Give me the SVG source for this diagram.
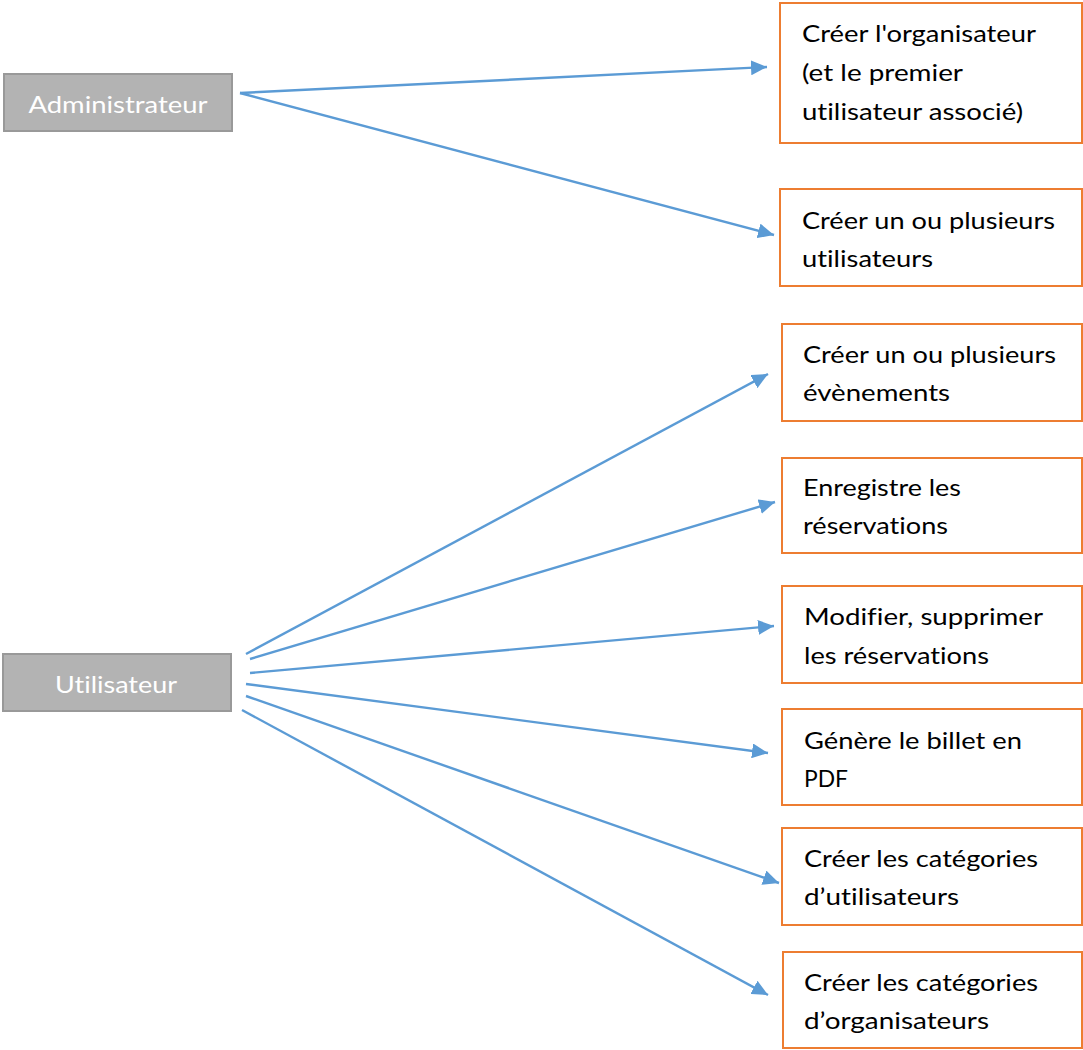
<svg xmlns="http://www.w3.org/2000/svg" width="1083" height="1050" viewBox="0 0 1083 1050">
<style>
text{font-variant-ligatures:none;font-feature-settings:"liga" 0,"clig" 0}
.actor{fill:#b3b3b3;stroke:#999999;stroke-width:2}
.actor-t{fill:#ffffff;font-family:Lato,"Open Sans",sans-serif;font-size:23px;text-anchor:middle}
.task{fill:#ffffff;stroke:#ed7d31;stroke-width:2}
.task-t{fill:#000000;font-family:Lato,"Open Sans",sans-serif;font-size:23px}
.conn{stroke:#5b9bd5;stroke-width:2.4;fill:none;marker-end:url(#arr)}
</style>
<defs>
<marker id="arr" markerUnits="userSpaceOnUse" markerWidth="17" markerHeight="15" refX="16" refY="7.5" orient="auto">
<path d="M0,0 L16,7.5 L0,15 z" fill="#5b9bd5"/>
</marker>
</defs>
<rect width="1083" height="1050" fill="#ffffff"/>
<g id="connectors">
<line class="conn" x1="240" y1="93" x2="767" y2="67"/>
<line class="conn" x1="240" y1="93" x2="774" y2="235"/>
<line class="conn" x1="246" y1="654" x2="768" y2="374"/>
<line class="conn" x1="250" y1="659" x2="775" y2="502"/>
<line class="conn" x1="250" y1="673" x2="774" y2="626"/>
<line class="conn" x1="246" y1="684" x2="768" y2="753"/>
<line class="conn" x1="246" y1="696" x2="779" y2="883"/>
<line class="conn" x1="242" y1="710" x2="768" y2="995"/>
</g>
<g id="administrateur">
<rect class="actor" x="4" y="74" width="228" height="57"/>
<text class="actor-t" x="118" y="113" textLength="179" lengthAdjust="spacingAndGlyphs">Administrateur</text>
</g>
<g id="utilisateur">
<rect class="actor" x="3" y="654" width="228" height="57"/>
<text class="actor-t" x="116" y="693" textLength="122" lengthAdjust="spacingAndGlyphs">Utilisateur</text>
</g>
<g id="creer-organisateur">
<rect class="task" x="780" y="3" width="302" height="140"/>
<text class="task-t" x="802" y="42" textLength="234" lengthAdjust="spacingAndGlyphs">Créer l'organisateur</text>
<text class="task-t" x="802" y="81" textLength="161" lengthAdjust="spacingAndGlyphs">(et le premier</text>
<text class="task-t" x="802" y="120" textLength="221" lengthAdjust="spacingAndGlyphs">utilisateur associé)</text>
</g>
<g id="creer-utilisateurs">
<rect class="task" x="780" y="189" width="302" height="97"/>
<text class="task-t" x="802" y="229" textLength="253" lengthAdjust="spacingAndGlyphs">Créer un ou plusieurs</text>
<text class="task-t" x="802" y="267" textLength="131" lengthAdjust="spacingAndGlyphs">utilisateurs</text>
</g>
<g id="creer-evenements">
<rect class="task" x="782" y="324" width="300" height="97"/>
<text class="task-t" x="803" y="363" textLength="253" lengthAdjust="spacingAndGlyphs">Créer un ou plusieurs</text>
<text class="task-t" x="803" y="401" textLength="147" lengthAdjust="spacingAndGlyphs">évènements</text>
</g>
<g id="enregistre-reservations">
<rect class="task" x="782" y="458" width="300" height="95"/>
<text class="task-t" x="803" y="496" textLength="158" lengthAdjust="spacingAndGlyphs">Enregistre les</text>
<text class="task-t" x="803" y="534" textLength="145" lengthAdjust="spacingAndGlyphs">réservations</text>
</g>
<g id="modifier-reservations">
<rect class="task" x="782" y="586" width="300" height="97"/>
<text class="task-t" x="804" y="625" textLength="239" lengthAdjust="spacingAndGlyphs">Modifier, supprimer</text>
<text class="task-t" x="804" y="664" textLength="185" lengthAdjust="spacingAndGlyphs">les réservations</text>
</g>
<g id="genere-billet">
<rect class="task" x="782" y="709" width="300" height="96"/>
<text class="task-t" x="804" y="749" textLength="218" lengthAdjust="spacingAndGlyphs">Génère le billet en</text>
<text class="task-t" x="804" y="787" textLength="44" lengthAdjust="spacingAndGlyphs">PDF</text>
</g>
<g id="categories-utilisateurs">
<rect class="task" x="782" y="828" width="300" height="97"/>
<text class="task-t" x="804" y="867" textLength="234" lengthAdjust="spacingAndGlyphs">Créer les catégories</text>
<text class="task-t" x="804" y="905" textLength="155" lengthAdjust="spacingAndGlyphs">d’utilisateurs</text>
</g>
<g id="categories-organisateurs">
<rect class="task" x="783" y="952" width="299" height="96"/>
<text class="task-t" x="804" y="991" textLength="234" lengthAdjust="spacingAndGlyphs">Créer les catégories</text>
<text class="task-t" x="804" y="1029" textLength="185" lengthAdjust="spacingAndGlyphs">d’organisateurs</text>
</g>
</svg>
